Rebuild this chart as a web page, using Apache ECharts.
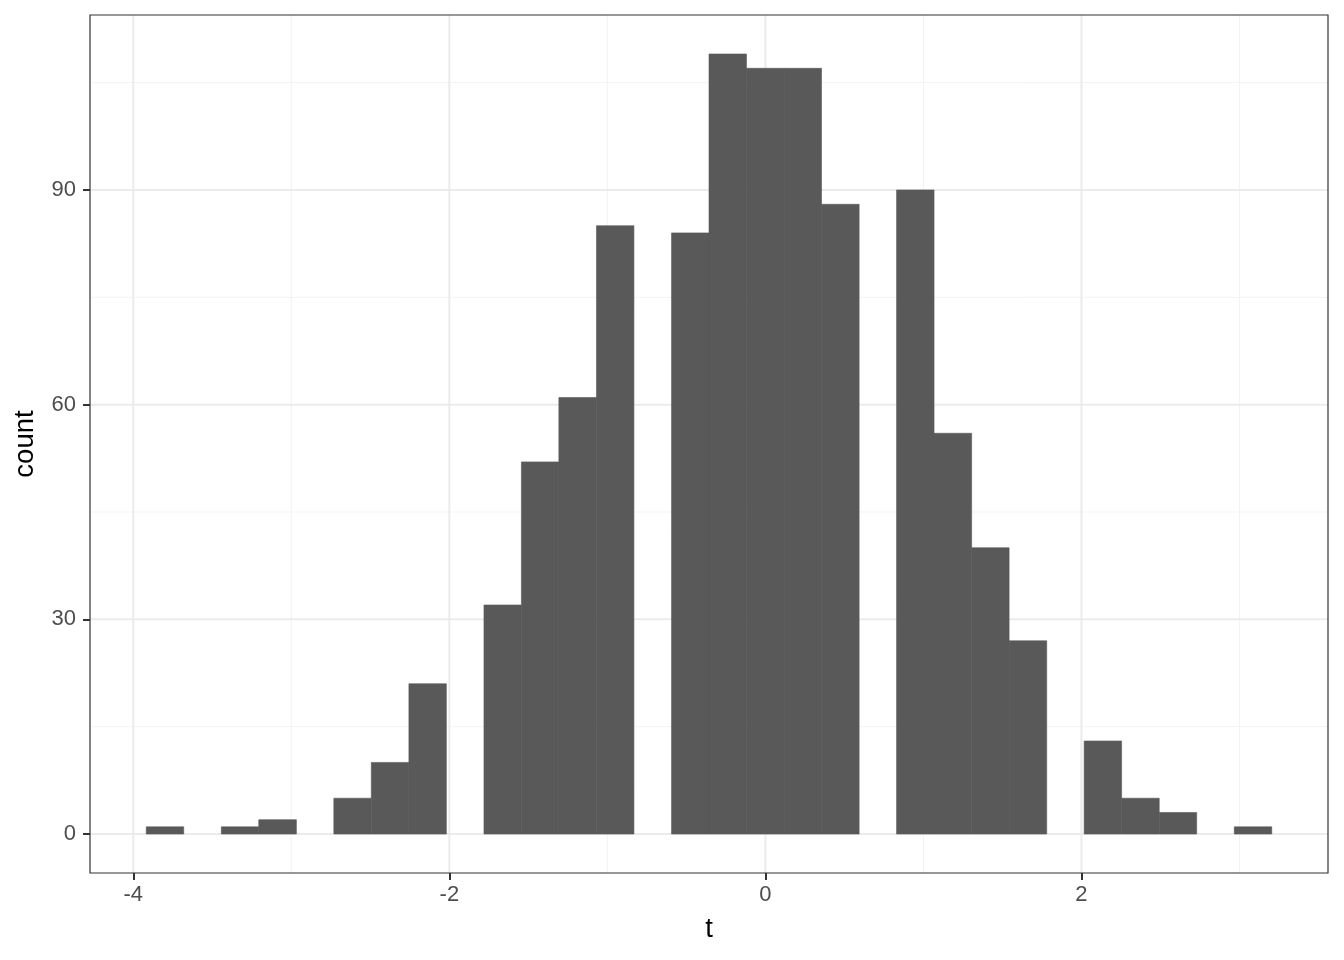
<!DOCTYPE html>
<html>
<head>
<meta charset="utf-8">
<script src="https://cdn.jsdelivr.net/npm/echarts@6/dist/echarts.min.js"></script>
<style>html,body{margin:0;padding:0;background:#fff;}#c{width:1344px;height:960px;}</style>
</head>
<body>
<div id="c"></div>
<script>
// Histogram bin edges (31 edges -> 30 bins) and counts
const binEdges = [-3.918,-3.681,-3.443,-3.206,-2.968,-2.731,-2.494,-2.256,-2.019,-1.781,-1.544,-1.307,-1.069,-0.832,-0.594,-0.357,-0.120,0.118,0.355,0.593,0.830,1.067,1.305,1.542,1.780,2.017,2.254,2.492,2.729,2.967,3.204];
const counts = [1,0,1,2,0,5,10,21,0,32,52,61,85,0,84,109,107,107,88,0,90,56,40,27,0,13,5,3,0,1];
const xMajorTicks = [-4,-2,0,2];
const xMinorTicks = [-3,-1,1,3];
const yMajorTicks = [0,30,60,90];
const yMinorTicks = [15,45,75,105];

const xMin = -4.274, xMax = 3.560, yMin = -5.45, yMax = 114.45;

const bins = counts.map((c, i) => [binEdges[i], binEdges[i+1], c]);

const chart = echarts.init(document.getElementById('c'));
const gridColorMajor = '#ebebeb';
const gridColorMinor = '#f3f3f3';
const FONT = 'Liberation Sans, Arial, sans-serif';

function vlines(vals, w, color) {
  return {
    type: 'custom', silent: true, z: 1,
    data: vals.map(v => [v]),
    renderItem: (params, api) => {
      const x = api.coord([api.value(0), yMin])[0];
      const y0 = api.coord([0, yMin])[1], y1 = api.coord([0, yMax])[1];
      return {type: 'line', shape: {x1: x, y1: y0, x2: x, y2: y1}, style: {stroke: color, lineWidth: w}};
    }
  };
}
function hlines(vals, w, color) {
  return {
    type: 'custom', silent: true, z: 1,
    data: vals.map(v => [0, v]),
    renderItem: (params, api) => {
      const y = api.coord([xMin, api.value(1)])[1];
      const x0 = api.coord([xMin, 0])[0], x1 = api.coord([xMax, 0])[0];
      return {type: 'line', shape: {x1: x0, y1: y, x2: x1, y2: y}, style: {stroke: color, lineWidth: w}};
    }
  };
}

chart.setOption({
  animation: false,
  backgroundColor: '#ffffff',
  grid: {left: 90, right: 16, top: 15, bottom: 87, show: true, borderColor: '#333333', borderWidth: 1.2, backgroundColor: 'transparent', z: 10},
  xAxis: {
    type: 'value', min: xMin, max: xMax,
    name: 't', nameLocation: 'middle', nameGap: 42,
    nameTextStyle: {color: '#000', fontSize: 27.5, fontFamily: FONT},
    axisLine: {show: false, onZero: false},
    axisTick: {show: true, inside: false, length: 7, lineStyle: {color: '#333', width: 2}, customValues: xMajorTicks},
    axisLabel: {color: '#4d4d4d', fontSize: 22, margin: 11, fontFamily: FONT, customValues: xMajorTicks},
    splitLine: {show: false}
  },
  yAxis: {
    type: 'value', min: yMin, max: yMax,
    name: 'count', nameLocation: 'middle', nameGap: 51,
    nameTextStyle: {color: '#000', fontSize: 27.5, fontFamily: FONT},
    axisLine: {show: false, onZero: false},
    axisTick: {show: true, inside: false, length: 7, lineStyle: {color: '#333', width: 2}, customValues: yMajorTicks},
    axisLabel: {color: '#4d4d4d', fontSize: 22, margin: 14, fontFamily: FONT, customValues: yMajorTicks},
    splitLine: {show: false}
  },
  series: [
    vlines(xMinorTicks, 1, gridColorMinor),
    hlines(yMinorTicks, 1, gridColorMinor),
    vlines(xMajorTicks, 2, gridColorMajor),
    hlines(yMajorTicks, 2, gridColorMajor),
    {
      type: 'custom', z: 5,
      data: bins,
      renderItem: (params, api) => {
        if (!(api.value(2) > 0)) return null;
        const p0 = api.coord([api.value(0), 0]);
        const p1 = api.coord([api.value(1), api.value(2)]);
        return {type: 'rect', shape: {x: p0[0], y: p1[1], width: p1[0] - p0[0], height: p0[1] - p1[1]}, style: {fill: '#595959', stroke: '#595959', lineWidth: 0.6}};
      }
    }
  ]
});
</script>
</body>
</html>
